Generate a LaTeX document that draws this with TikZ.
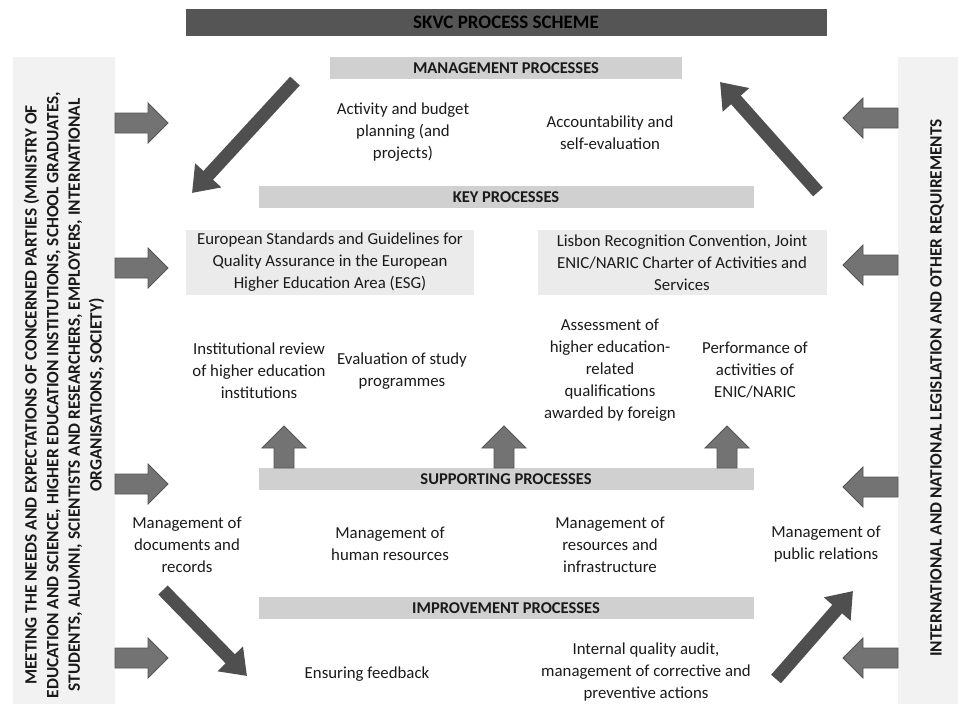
\documentclass[tikz,border=0pt]{standalone}
\usepackage{fontspec}
\setmainfont{Carlito}
\usetikzlibrary{arrows.meta}
\definecolor{titlebar}{HTML}{555555}
\definecolor{barcol}{HTML}{D0D0D0}
\definecolor{boxcol}{HTML}{EBEBEB}
\definecolor{panelcol}{HTML}{F2F2F2}
\definecolor{blockfill}{HTML}{737373}
\definecolor{blockline}{HTML}{555555}
\definecolor{diagcol}{HTML}{4F4F4F}
\definecolor{txt}{HTML}{1A1A1A}
\tikzset{
  bartxt/.style={font=\bfseries\fontsize{16.5}{18}\selectfont, text=txt},
  bodytxt/.style={font=\fontsize{16.8}{22}\selectfont, align=center, text=txt, inner sep=0pt},
  sidetxt/.style={font=\bfseries\fontsize{17.3}{21.7}\selectfont, align=center, text=txt, rotate=90, inner sep=0pt},
  blockarrow/.style={fill=blockfill, draw=blockline, line width=0.8pt},
  bigarrow/.style={draw=diagcol, line width=13pt, -{Triangle[length=24pt,width=34pt]}},
  rblock/.pic={\path[blockarrow] (0,-10)--(33,-10)--(33,-20)--(53,0)--(33,20)--(33,10)--(0,10)--cycle;},
  lblock/.pic={\path[blockarrow] (0,-10)--(-35,-10)--(-35,-20)--(-55,0)--(-35,20)--(-35,10)--(0,10)--cycle;},
  ublock/.pic={\path[blockarrow] (-10,0)--(-10,-20)--(-22,-20)--(0,-42)--(22,-20)--(10,-20)--(10,0)--cycle;}
}
\begin{document}
\begin{tikzpicture}[x=1pt,y=-1pt]
\useasboundingbox (0,0) rectangle (958,704);
% title
\fill[titlebar] (186,9) rectangle (827,36);
\node[font=\bfseries\fontsize{19}{20}\selectfont, text=black] (title) at (506,22.5) {SKVC PROCESS SCHEME};
% side panels
\fill[panelcol] (13,57) rectangle (115,704);
\fill[panelcol] (898,57) rectangle (958,704);
\node[sidetxt] (lefttxt) at (64,395) {MEETING THE NEEDS AND EXPECTATIONS OF CONCERNED PARTIES (MINISTRY OF\\EDUCATION AND SCIENCE, HIGHER EDUCATION INSTITUTIONS, SCHOOL GRADUATES,\\STUDENTS, ALUMNI, SCIENTISTS AND RESEARCHERS, EMPLOYERS, INTERNATIONAL\\ORGANISATIONS, SOCIETY)};
\node[sidetxt] (righttxt) at (937,388) {INTERNATIONAL AND NATIONAL LEGISLATION AND OTHER REQUIREMENTS};
% bars
\fill[barcol] (330,57) rectangle (682,79);
\node[bartxt] (mgmt) at (506,68) {MANAGEMENT PROCESSES};
\fill[barcol] (259,186) rectangle (754,208);
\node[bartxt] (key) at (506,197) {KEY PROCESSES};
\fill[barcol] (259,468) rectangle (754,490);
\node[bartxt] (supp) at (506,479) {SUPPORTING PROCESSES};
\fill[barcol] (259,597) rectangle (754,619);
\node[bartxt] (impr) at (506,608) {IMPROVEMENT PROCESSES};
% light boxes
\fill[boxcol] (186,230) rectangle (474,295);
\node[bodytxt] (esg) at (330,262.5) {European Standards and Guidelines for\\Quality Assurance in the European\\Higher Education Area (ESG)};
\fill[boxcol] (538,230) rectangle (827,295);
\node[bodytxt] (lisbon) at (682,262.5) {Lisbon Recognition Convention, Joint\\ENIC/NARIC Charter of Activities and\\Services};
% body texts
\node[bodytxt] (plan) at (403,132.5) {Activity and budget\\planning (and\\projects)};
\node[bodytxt] (acc) at (610,133) {Accountability and\\self-evaluation};
\node[bodytxt] (inst) at (259,370.5) {Institutional review\\of higher education\\institutions};
\node[bodytxt] (eval) at (402,371) {Evaluation of study\\programmes};
\node[bodytxt] (assess) at (610,370.5) {Assessment of\\higher education-\\related\\qualifications\\awarded by foreign};
\node[bodytxt] (perf) at (755,370.5) {Performance of\\activities of\\ENIC/NARIC};
\node[bodytxt] (docs) at (187,544.5) {Management of\\documents and\\records};
\node[bodytxt] (hr) at (390,544) {Management of\\human resources};
\node[bodytxt] (res) at (610,544.5) {Management of\\resources and\\infrastructure};
\node[bodytxt] (pr) at (826,544) {Management of\\public relations};
\node[bodytxt] (feed) at (367,674) {Ensuring feedback};
\node[bodytxt] (audit) at (646,672.5) {Internal quality audit,\\management of corrective and\\preventive actions};
% block arrows from panels
\pic at (115,123) {rblock};
\pic at (115,268) {rblock};
\pic at (115,484) {rblock};
\pic at (115,658) {rblock};
\pic at (898,118) {lblock};
\pic at (898,265) {lblock};
\pic at (898,487) {lblock};
\pic at (898,658) {lblock};
% up arrows
\pic at (284,468) {ublock};
\pic at (504,468) {ublock};
\pic at (727,468) {ublock};
% big diagonal arrows
\coordinate (d1s) at (295,81);
\coordinate (d1e) at (192,193);
\coordinate (d2s) at (818,192);
\coordinate (d2e) at (720,82);
\coordinate (d3s) at (163,590);
\coordinate (d3e) at (247,676);
\coordinate (d4s) at (776,679);
\coordinate (d4e) at (853,591);
\draw[bigarrow] (d1s) -- (d1e);
\draw[bigarrow] (d2s) -- (d2e);
\draw[bigarrow] (d3s) -- (d3e);
\draw[bigarrow] (d4s) -- (d4e);
\end{tikzpicture}
\end{document}
